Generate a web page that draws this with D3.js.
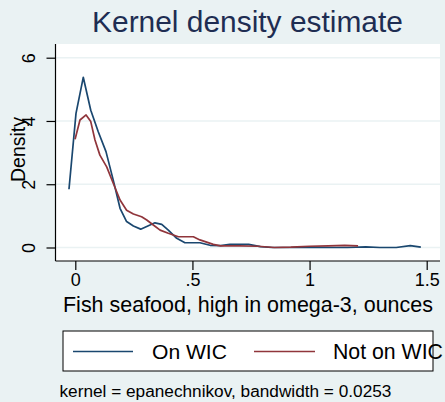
<!DOCTYPE html>
<html>
<head>
<meta charset="utf-8">
<script src="https://cdn.jsdelivr.net/npm/d3@7"></script>
<style>
  html, body { margin: 0; padding: 0; background: #eaf2f3; }
  svg { display: block; font-family: "Liberation Sans", Arial, sans-serif; }
</style>
</head>
<body>
<svg id="chart" width="445" height="402"></svg>
<script>
// Kernel density of fish/seafood (high omega-3) intake, by WIC participation
const wicX = [-0.027, 0.003, 0.034, 0.066, 0.098, 0.131, 0.162, 0.191, 0.219, 0.248,
              0.279, 0.312, 0.340, 0.369, 0.397, 0.433, 0.468, 0.532, 0.575, 0.62,
              0.66, 0.74, 0.79, 0.84, 0.92, 1.0, 1.08, 1.16, 1.24, 1.30, 1.37, 1.43, 1.475];
const wicY = [1.84, 4.24, 5.38, 4.34, 3.66, 3.03, 2.13, 1.24, 0.82, 0.68,
              0.58, 0.69, 0.78, 0.73, 0.55, 0.29, 0.15, 0.15, 0.07, 0.06,
              0.10, 0.10, 0.03, 0.0, 0.0, 0.01, 0.0, 0.0, 0.02, 0.0, 0.0, 0.06, 0.01];

const notX = [-0.001, 0.02, 0.046, 0.066, 0.084, 0.105, 0.134, 0.162, 0.191, 0.219,
              0.248, 0.283, 0.305, 0.333, 0.362, 0.397, 0.44, 0.504, 0.532, 0.589,
              0.62, 0.70, 0.78, 0.85, 0.92, 1.0, 1.08, 1.15, 1.207];
const notY = [3.42, 4.03, 4.19, 3.98, 3.40, 2.92, 2.55, 2.03, 1.50, 1.18,
              1.06, 0.97, 0.87, 0.71, 0.55, 0.45, 0.34, 0.34, 0.24, 0.10,
              0.05, 0.05, 0.04, 0.0, 0.01, 0.04, 0.05, 0.07, 0.05];

const xTicks = [0, 0.5, 1, 1.5];
const xTickLabels = ["0", ".5", "1", "1.5"];
const yTicks = [0, 2, 4, 6];

const seriesNames = ["On WIC", "Not on WIC"];
const colors = ["#1a476f", "#90353b"];

const svg = d3.select("#chart");
const W = 445, H = 402;

// scale a text element's font so that its rendered width equals `target`
function fitWidth(sel, target) {
  sel.each(function () {
    const fs = parseFloat(this.getAttribute("font-size"));
    const w = this.getComputedTextLength();
    if (w > 0) this.setAttribute("font-size", (fs * target / w).toFixed(2));
  });
}

svg.append("rect").attr("width", W).attr("height", H).attr("fill", "#eaf2f3");

// plot region
const plot = { left: 55.5, right: 440, top: 44, bottom: 261 };
svg.append("rect")
  .attr("x", plot.left).attr("y", plot.top)
  .attr("width", plot.right - plot.left).attr("height", plot.bottom - plot.top)
  .attr("fill", "#ffffff");

const x = d3.scaleLinear().domain([0, 1.5]).range([75.3, 426.7]);
const y = d3.scaleLinear().domain([0, 6]).range([247.5, 57.7]);

// horizontal grid
svg.append("g").selectAll("line").data(yTicks).join("line")
  .attr("x1", plot.left).attr("x2", plot.right)
  .attr("y1", d => y(d)).attr("y2", d => y(d))
  .attr("stroke", "#eaf2f3").attr("stroke-width", 1.5);

// density curves
const line = d3.line().x(d => x(d[0])).y(d => y(d[1]));
const series = [d3.zip(wicX, wicY), d3.zip(notX, notY)];
svg.append("g").selectAll("path").data(series).join("path")
  .attr("d", line)
  .attr("fill", "none")
  .attr("stroke", (d, i) => colors[i])
  .attr("stroke-width", 1.7)
  .attr("stroke-linejoin", "round");

// x axis
const xAxis = d3.axisBottom(x).tickValues(xTicks).tickSize(9).tickPadding(3)
  .tickFormat((d, i) => xTickLabels[i]);
const gx = svg.append("g").attr("transform", `translate(0,${plot.bottom})`).call(xAxis);
gx.select(".domain").attr("d", `M${plot.left},0H${plot.right}`).attr("stroke", "#000").attr("stroke-width", 1.2);
gx.selectAll(".tick line").attr("stroke", "#000").attr("stroke-width", 1.2);
const xLabels = gx.selectAll(".tick text").attr("font-size", 20).attr("fill", "#000");
fitWidth(gx.selectAll(".tick text").filter(d => d === 1.5), 25);
const tickFs = +gx.selectAll(".tick text").filter(d => d === 1.5).attr("font-size");
xLabels.attr("font-size", tickFs);

// y axis
const yAxis = d3.axisLeft(y).tickValues(yTicks).tickSize(9).tickPadding(4).tickFormat(d3.format("d"));
const gy = svg.append("g").attr("transform", `translate(${plot.left},0)`).call(yAxis);
gy.select(".domain").attr("d", `M0,${plot.top}V${plot.bottom}`).attr("stroke", "#000").attr("stroke-width", 1.2);
gy.selectAll(".tick line").attr("stroke", "#000").attr("stroke-width", 1.2);
gy.selectAll(".tick text")
  .attr("font-size", tickFs).attr("fill", "#000")
  .attr("text-anchor", "middle")
  .attr("x", 0).attr("dy", 0).attr("y", 0)
  .attr("transform", "translate(-20.5,0) rotate(-90)");

// titles
const title = svg.append("text")
  .attr("x", 247.5).attr("y", 32)
  .attr("text-anchor", "middle")
  .attr("font-size", 27.5).attr("fill", "#1e2d52")
  .text("Kernel density estimate");
fitWidth(title, 311);

const yTitle = svg.append("text")
  .attr("transform", "translate(25,149.5) rotate(-90)")
  .attr("text-anchor", "middle")
  .attr("font-size", 19).attr("fill", "#000")
  .text("Density");
fitWidth(yTitle, 65);

const xTitle = svg.append("text")
  .attr("x", 248).attr("y", 312)
  .attr("text-anchor", "middle")
  .attr("font-size", 20).attr("fill", "#000")
  .text("Fish seafood, high in omega-3, ounces");
fitWidth(xTitle, 370);

// legend
const lg = svg.append("g");
lg.append("rect")
  .attr("x", 63).attr("y", 331).attr("width", 370).attr("height", 40)
  .attr("fill", "#fff").attr("stroke", "#000").attr("stroke-width", 1);
const legendItems = [
  { x0: 73, x1: 133, tx: 152, w: 75 },
  { x0: 254, x1: 315, tx: 333, w: 110 }
];
legendItems.forEach((it, i) => {
  lg.append("line")
    .attr("x1", it.x0).attr("x2", it.x1).attr("y1", 351.5).attr("y2", 351.5)
    .attr("stroke", colors[i]).attr("stroke-width", 1.7);
  const t = lg.append("text")
    .attr("x", it.tx).attr("y", 358.5)
    .attr("font-size", 21).attr("fill", "#000")
    .text(seriesNames[i]);
  fitWidth(t, it.w);
});

// note
const note = svg.append("text")
  .attr("x", 59.5).attr("y", 396.5)
  .attr("font-size", 16).attr("fill", "#000")
  .text("kernel = epanechnikov, bandwidth = 0.0253");
fitWidth(note, 332);
</script>
</body>
</html>
